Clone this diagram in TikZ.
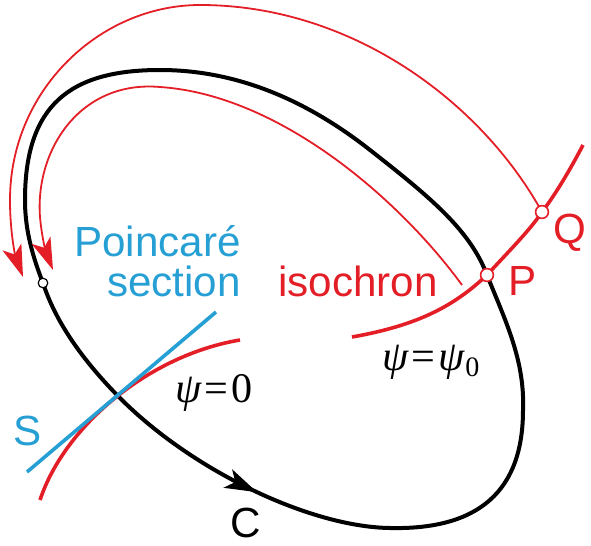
\documentclass[tikz,border=0pt]{standalone}
\usepackage{fontspec}
\setmainfont{Liberation Sans}
\newfontfamily\eqfont{Liberation Serif}
\usetikzlibrary{arrows.meta,decorations.markings}
\definecolor{isored}{RGB}{228,30,38}
\definecolor{secblue}{RGB}{38,160,212}

\begin{document}
\begin{tikzpicture}[x=0.25mm,y=-0.25mm,
    orbit/.style={line width=1mm,black},
    isoline/.style={line width=0.9mm,isored},
    flow/.style={line width=0.45mm,isored,-{Stealth[length=8mm,width=5mm,inset=2mm]}},
    dot/.style={circle,draw,fill=white,inner sep=0pt,minimum size=#1},
    dot/.default=3.2mm,
    lbl/.style={font=\fontsize{30}{28}\selectfont,inner sep=0pt},
    eqn/.style={font=\eqfont\fontsize{30}{32}\selectfont,inner sep=0pt}]

    \useasboundingbox (0,0) rectangle (591,546);

    \coordinate (x0) at (43,283);
    \coordinate (P) at (487,275);
    \coordinate (Q) at (542,212);
    \coordinate (i0) at (462,285);
    \coordinate (s0) at (117,395);
    \coordinate (s1) at (27,472);
    \coordinate (s2) at (216,312);

    % limit cycle C
    \draw[orbit,decoration={markings,mark=at position 0.795 with {\arrowreversed{Stealth[length=8mm,width=5mm,inset=2mm]}}},postaction={decorate}]
      (x0) .. controls (30,250) and (25,225) .. (25,200)
      .. controls (25,105) and (70,70) .. (160,70)
      .. controls (230,70) and (300,95) .. (370,150)
      .. controls (430,197) and (470,230) .. (P)
      .. controls (505,320) and (525,360) .. (523,410)
      .. controls (523,490) and (480,530) .. (390,528)
      .. controls (310,527) and (190,470) .. (s0)
      .. controls (80,357) and (55,320) .. (x0) -- cycle;

    % orbits starting on the isochron
    \draw[flow] (Q) .. controls (480,100) and (350,5) .. (200,5)
      .. controls (100,5) and (10,90) .. (10,200)
      .. controls (10,235) and (16,258) .. (23,277);
    \draw[flow] (i0) .. controls (400,200) and (280,95) .. (160,87)
      .. controls (80,80) and (35,150) .. (40,217)
      .. controls (42,240) and (47,255) .. (53,270);

    % isochrons
    \draw[isoline] (352,337) .. controls (420,325) and (455,305) .. (P)
      .. controls (510,250) and (530,230) .. (Q)
      .. controls (555,195) and (570,170) .. (583,145);
    \draw[isoline] (40,500) .. controls (65,425) and (150,355) .. (240,340);

    \draw[line width=0.9mm,secblue] (s1) -- (s2); %section S

    \node[dot=2.4mm,line width=0.3mm] (x0dot) at (x0) {};
    \node[dot,draw=isored,line width=0.4mm] (Pdot) at (P) {};
    \node[dot,draw=isored,line width=0.4mm] (Qdot) at (Q) {};

    \node[lbl,secblue,align=right,anchor=base east] (sect) at (241,296) {Poincaré\\section};
    \node[lbl,isored,anchor=base west] (iso) at (278,296) {isochron};
    \node[lbl,isored,anchor=base west] (Plbl) at (508,295) {P};
    \node[lbl,isored,anchor=base west] (Qlbl) at (553,243) {Q};
    \node[lbl,secblue,anchor=base west] (Slbl) at (13,445) {S};
    \node[lbl,anchor=base west] (Clbl) at (230,537) {C};
    \node[eqn,anchor=base west] (psi0) at (175,402) {\textit{ψ}\kern2pt=\kern2pt0};
    \node[eqn,anchor=base west] (psiP) at (382,370) {\textit{ψ}\kern2pt=\kern2pt\textit{ψ}\raisebox{-0.35ex}{\fontsize{20}{20}\selectfont 0}};
\end{tikzpicture}
\end{document}
